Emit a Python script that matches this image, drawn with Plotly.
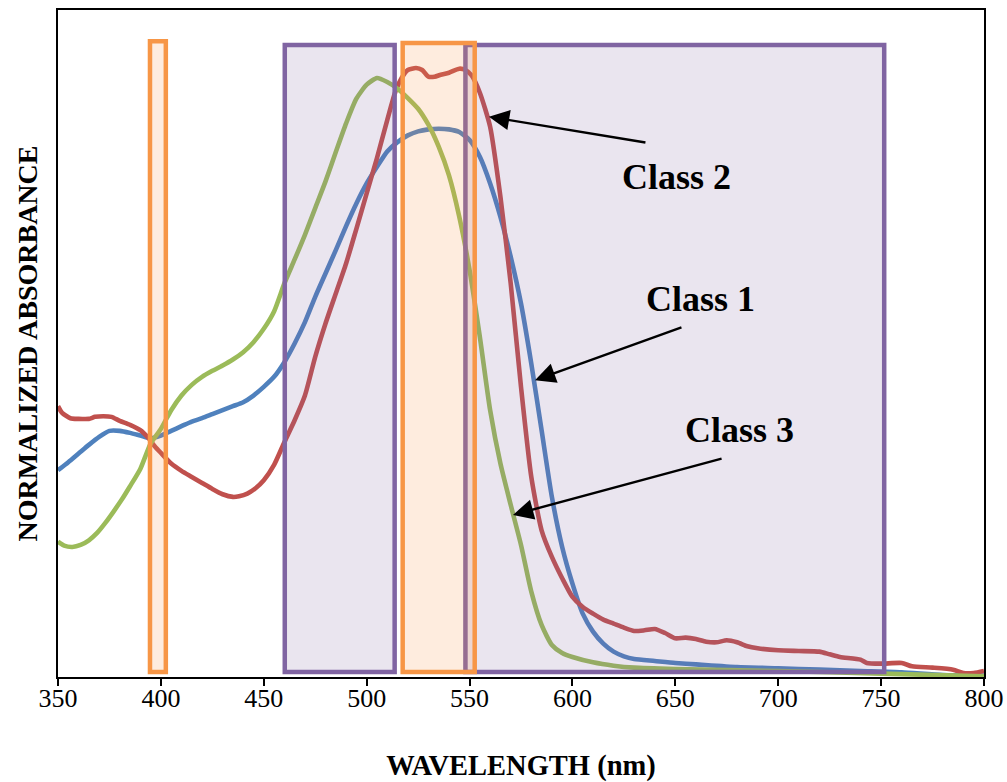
import plotly.graph_objects as go

# Wavelength grids (nm) and normalized absorbance for each class
class1_wl = [350, 355, 360, 365, 370, 375, 380, 385, 390, 395, 400, 405, 410, 415, 420, 425,
             430, 435, 440, 445, 450, 455, 460, 465, 470, 475, 480, 485, 490, 495, 500, 505,
             510, 515, 520, 525, 530, 535, 540, 545, 550, 555, 560, 565, 570, 575, 580, 585,
             590, 595, 600, 605, 610, 615, 620, 625, 630, 640, 650, 660, 680, 700, 720, 740,
             760, 780, 800]
class1_abs = [0.310, 0.322, 0.335, 0.348, 0.360, 0.369, 0.369, 0.366, 0.362, 0.358, 0.362, 0.369,
              0.376, 0.383, 0.388, 0.394, 0.400, 0.406, 0.412, 0.422, 0.435, 0.450, 0.472, 0.500,
              0.532, 0.570, 0.605, 0.640, 0.676, 0.710, 0.740, 0.765, 0.788, 0.802, 0.812, 0.818,
              0.821, 0.822, 0.821, 0.817, 0.805, 0.780, 0.740, 0.690, 0.630, 0.560, 0.470, 0.370,
              0.270, 0.195, 0.140, 0.095, 0.068, 0.050, 0.038, 0.031, 0.027, 0.024, 0.021, 0.019,
              0.015, 0.013, 0.011, 0.009, 0.007, 0.003, 0.002]

class2_wl = [350, 352, 356, 360, 365, 368, 372, 376, 380, 385, 390, 394, 397, 400, 405, 410,
             415, 420, 425, 430, 435, 438, 442, 446, 450, 455, 460, 465, 470, 475, 480, 485,
             490, 495, 500, 505, 510, 514, 517, 520, 524, 527, 530, 533, 536, 540, 545, 548,
             551, 555, 560, 565, 570, 575, 580, 585, 590, 595, 600, 605, 610, 615, 620, 625,
             630, 635, 640, 645, 650, 655, 660, 665, 670, 675, 680, 685, 690, 700, 710, 720,
             725, 730, 740, 743, 750, 760, 765, 775, 785, 790, 795, 800]
class2_abs = [0.406, 0.396, 0.388, 0.387, 0.387, 0.390, 0.391, 0.390, 0.384, 0.378, 0.370, 0.358,
              0.346, 0.336, 0.320, 0.309, 0.300, 0.291, 0.282, 0.274, 0.270, 0.271, 0.275, 0.283,
              0.295, 0.318, 0.352, 0.385, 0.422, 0.480, 0.530, 0.575, 0.620, 0.672, 0.725, 0.778,
              0.835, 0.878, 0.898, 0.910, 0.913, 0.910, 0.900, 0.900, 0.903, 0.906, 0.912, 0.910,
              0.902, 0.876, 0.825, 0.720, 0.590, 0.435, 0.300, 0.220, 0.180, 0.148, 0.120, 0.105,
              0.095, 0.086, 0.080, 0.074, 0.069, 0.070, 0.072, 0.066, 0.058, 0.059, 0.057, 0.053,
              0.052, 0.055, 0.052, 0.046, 0.043, 0.040, 0.039, 0.038, 0.034, 0.030, 0.026, 0.021,
              0.020, 0.021, 0.016, 0.014, 0.011, 0.006, 0.006, 0.009]

class3_wl = [350, 353, 357, 361, 365, 369, 373, 377, 381, 385, 390, 395, 400, 405, 410, 415,
             420, 425, 430, 435, 440, 445, 450, 455, 460, 465, 470, 475, 480, 485, 490, 495,
             500, 505, 510, 515, 520, 525, 530, 535, 540, 545, 550, 555, 560, 565, 570, 575,
             580, 585, 590, 595, 600, 610, 620, 630, 650, 700, 750, 800]
class3_abs = [0.203, 0.197, 0.195, 0.198, 0.205, 0.216, 0.231, 0.248, 0.266, 0.286, 0.312, 0.350,
              0.372, 0.400, 0.422, 0.438, 0.450, 0.459, 0.467, 0.476, 0.487, 0.502, 0.522, 0.548,
              0.590, 0.626, 0.663, 0.703, 0.743, 0.787, 0.830, 0.867, 0.888, 0.898, 0.892, 0.882,
              0.868, 0.852, 0.828, 0.795, 0.752, 0.690, 0.610, 0.510, 0.400, 0.320, 0.258, 0.198,
              0.128, 0.078, 0.048, 0.036, 0.030, 0.022, 0.017, 0.014, 0.012, 0.009, 0.005, 0.001]

# Spectral bands (nm): [start, end]
orange_bands = [[394.7, 402.4], [517.5, 552.5]]
purple_bands = [[460.2, 513.6], [548.0, 751.5]]

x_ticks = [350, 400, 450, 500, 550, 600, 650, 700, 750, 800]

BLUE = "#4F81BD"
RED = "#C0504D"
GREEN = "#9BBB59"
PURPLE = "#8064A2"
ORANGE = "#F79646"
SERIF = "Liberation Serif, Times New Roman, serif"

fig = go.Figure()
for wl, ab, col, name in [(class1_wl, class1_abs, BLUE, "Class 1"),
                          (class2_wl, class2_abs, RED, "Class 2"),
                          (class3_wl, class3_abs, GREEN, "Class 3")]:
    fig.add_trace(go.Scatter(x=wl, y=ab, mode="lines", name=name,
                             line=dict(color=col, width=4.6, shape="spline", smoothing=0.6),
                             showlegend=False))

shapes = []
for x0, x1 in purple_bands:
    shapes.append(dict(type="rect", xref="x", yref="y", x0=x0, x1=x1, y0=0.0075, y1=0.9475,
                       line=dict(color=PURPLE, width=4.5),
                       fillcolor="rgba(128,100,162,0.17)", layer="above"))
for (x0, x1), top in zip(orange_bands, [0.953, 0.9505]):
    shapes.append(dict(type="rect", xref="x", yref="y", x0=x0, x1=x1, y0=0.0075, y1=top,
                       line=dict(color=ORANGE, width=4.5),
                       fillcolor="rgba(247,150,70,0.18)", layer="above"))
fig.update_layout(shapes=shapes)

# Class labels with arrows pointing at each curve
labels = [
    ("Class 2", 650.5, 0.750, 559.4, 0.840, 636.2, 0.801),
    ("Class 1", 662.0, 0.567, 581.8, 0.445, 653.7, 0.525),
    ("Class 3", 681.4, 0.370, 571.1, 0.243, 673.2, 0.328),
]
for text, tx, ty, hx, hy, sx, sy in labels:
    fig.add_annotation(x=hx, y=hy, ax=sx, ay=sy, xref="x", yref="y", axref="x", ayref="y",
                       showarrow=True, arrowhead=2, arrowsize=1.7, arrowwidth=2.4,
                       arrowcolor="black", text="")
    fig.add_annotation(x=tx, y=ty, xref="x", yref="y", text=f"<b>{text}</b>",
                       showarrow=False, font=dict(family=SERIF, size=36, color="black"))

fig.update_layout(
    width=1007, height=782,
    margin=dict(l=58, r=23, t=10, b=105),
    paper_bgcolor="white", plot_bgcolor="white",
    xaxis=dict(range=[350, 800], tickvals=x_ticks, ticks="outside", ticklen=7, tickwidth=2,
               tickcolor="black", showline=True, linecolor="black", linewidth=2, mirror=True,
               showgrid=False, zeroline=False, automargin=False, ticklabelstandoff=-10,
               tickfont=dict(family=SERIF, size=26, color="black"),
               title=dict(text="<b>WAVELENGTH (nm)</b>", standoff=48,
                          font=dict(family=SERIF, size=28.5, color="black"))),
    yaxis=dict(range=[0, 1], showticklabels=False, ticks="", showline=True, linecolor="black",
               linewidth=2, mirror=True, showgrid=False, zeroline=False, automargin=False,
               title=dict(text="<b>NORMALIZED ABSORBANCE</b>", standoff=10,
                          font=dict(family=SERIF, size=28, color="black"))),
)

fig.write_html("out.html")
